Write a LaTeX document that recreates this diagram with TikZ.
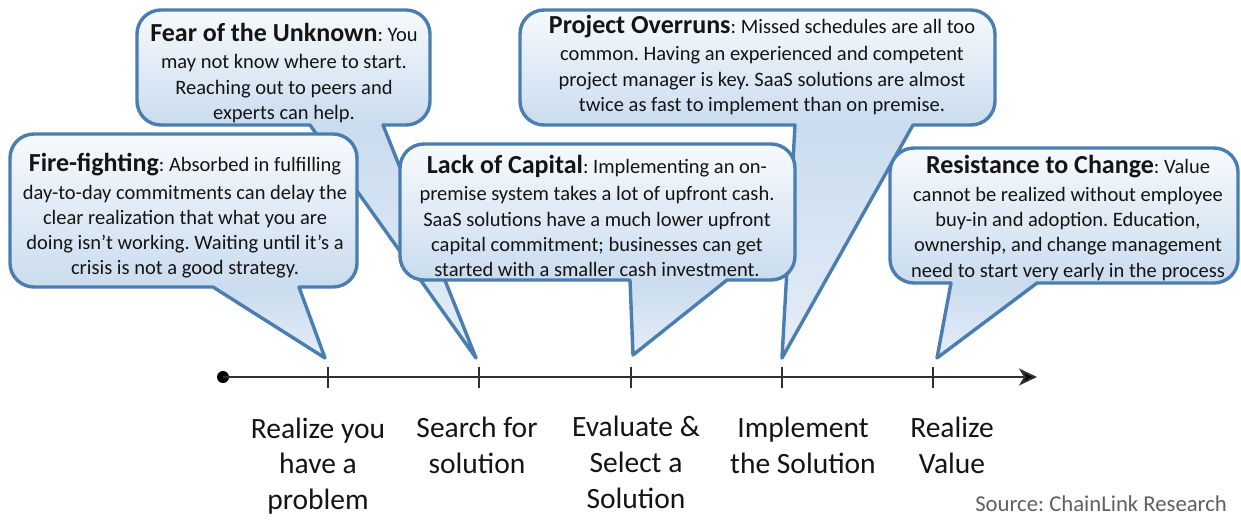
\documentclass[tikz,border=0pt]{standalone}
\usepackage{fontspec}
\setmainfont{Carlito}
\usetikzlibrary{arrows.meta}
\frenchspacing

\definecolor{edgeblue}{HTML}{4A7DB0}
\definecolor{filltop}{HTML}{F8FBFD}
\definecolor{fillbot}{HTML}{CADCEF}
\definecolor{filltip}{HTML}{E6EEF8}
\definecolor{axisgray}{HTML}{303030}
\definecolor{srcgray}{HTML}{606060}

\tikzset{
  balloonline/.style={draw=edgeblue, line width=3.4pt, line join=round},
  calltext/.style={align=center, inner sep=0pt, text=black!92,
    font=\fontsize{20.5}{25.3}\selectfont},
  steplabel/.style={align=center, inner sep=0pt, text=black!92,
    font=\fontsize{29.5}{35.8}\selectfont},
  tickline/.style={draw=axisgray, line width=1.4pt},
}

% bold lead-in of a callout text
\newcommand\lead[1]{{\fontsize{26}{25.3}\selectfont\bfseries #1}}

% speech balloon: box (#1,#2)-(#3,#4), tail base from #5 to #6 on the
% bottom edge, tail tip at (#7,#8), corner radius #9
\newcommand\balloon[9]{%
  \def\bpath{(#1+#9,#2) -- (#3-#9,#2)
    .. controls (#3-0.4477*#9,#2) and (#3,#2+0.4477*#9) .. (#3,#2+#9)
    -- (#3,#4-#9)
    .. controls (#3,#4-0.4477*#9) and (#3-0.4477*#9,#4) .. (#3-#9,#4)
    -- (#6,#4) -- (#7,#8) -- (#5,#4) -- (#1+#9,#4)
    .. controls (#1+0.4477*#9,#4) and (#1,#4-0.4477*#9) .. (#1,#4-#9)
    -- (#1,#2+#9)
    .. controls (#1,#2+0.4477*#9) and (#1+0.4477*#9,#2) .. cycle}%
  \begin{scope}
    \expandafter\clip\bpath;
    \shade[top color=filltop, bottom color=fillbot]
      (#1-5,#2-5) rectangle (#3+5,#4);
    \shade[top color=fillbot, bottom color=filltip]
      (#1-250,#4) rectangle (#3+250,#8+5);
  \end{scope}
  \expandafter\draw\bpath[balloonline];
}

\begin{document}
\begin{tikzpicture}[x=1pt, y=-1pt]
  \useasboundingbox[fill=white] (0,0) rectangle (1241,520);

  % balloons, back to front
  \balloon{137}{10}{430}{125}{310}{383}{476}{358}{24}
  \balloon{520}{10}{995}{125}{795}{913}{782}{358}{24}
  \balloon{10}{134}{357}{287}{213}{299}{325}{358}{24}
  \balloon{400}{144}{795}{280}{630}{727}{633}{355}{24}
  \balloon{890}{148}{1238}{283}{951}{1037}{937}{358}{24}

  % balloon texts
  \node[calltext] (fear) at (284,73)
    {\lead{Fear of the Unknown}: You\\[2pt]may not know where to start.\\Reaching out to peers and\\experts can help.};
  \node[calltext] (overrun) at (762,65)
    {\lead{Project Overruns}: Missed schedules are all too\\[2pt]common. Having an experienced and competent\\project manager is key. SaaS solutions are almost\\twice as fast to implement than on premise.};
  \node[calltext] (fire) at (185,216)
    {\lead{Fire-fighting}: Absorbed in fulfilling\\[2pt]day-to-day commitments can delay the\\clear realization that what you are\\doing isn’t working. Waiting until it’s a\\crisis is not a good strategy.};
  \node[calltext] (capital) at (597,216)
    {\lead{Lack of Capital}: Implementing an on-\\[2pt]premise system takes a lot of upfront cash.\\SaaS solutions have a much lower upfront\\capital commitment; businesses can get\\started with a smaller cash investment.};
  \node[calltext] (resist) at (1068,218)
    {\lead{Resistance to Change}: Value\\[2pt]cannot be realized without employee\\buy-in and adoption. Education,\\ownership, and change management\\need to start very early in the process};

  % timeline
  \node[circle, fill=black, inner sep=0pt, minimum size=12pt] (start) at (223,377) {};
  \coordinate (end) at (1037,377);
  \draw[draw=axisgray, line width=2pt,
        -{Stealth[length=18pt, width=17pt, inset=5pt, fill=black]}]
    (start.center) -- (end);

  \foreach \tx/\tn in {328/t1, 479/t2, 631/t3, 782/t4, 933/t5}{
    \coordinate (\tn a) at (\tx,367);
    \coordinate (\tn b) at (\tx,388);
    \draw[tickline] (\tn a) -- (\tn b);
  }

  % stage labels
  \node[steplabel] (s1) at (318,466) {Realize you\\have a\\problem};
  \node[steplabel] (s2) at (477,445) {Search for\\solution};
  \node[steplabel] (s3) at (636,462.5) {Evaluate \&\\Select a\\Solution};
  \node[steplabel] (s4) at (803,445) {Implement\\the Solution};
  \node[steplabel] (s5) at (952,445) {Realize\\Value};

  \node[anchor=base east, inner sep=0pt, text=srcgray,
        font=\fontsize{22.7}{26}\selectfont] (src) at (1227,511)
    {Source: ChainLink Research};
\end{tikzpicture}
\end{document}
